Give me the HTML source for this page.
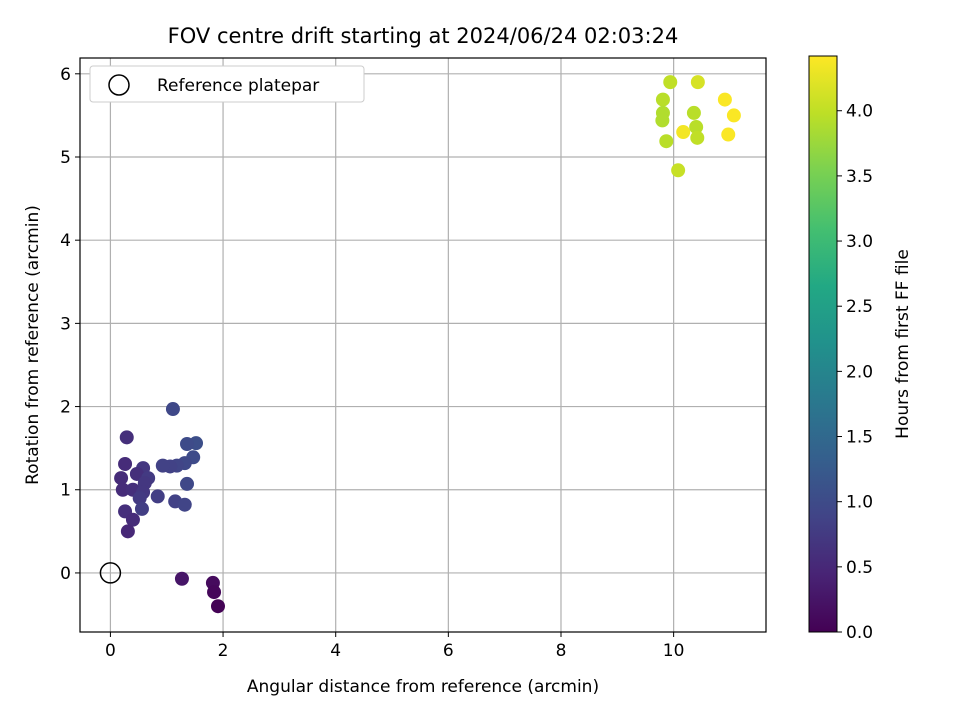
<!DOCTYPE html>
<html><head><meta charset="utf-8"><style>
body{margin:0;background:#fff;}
svg{display:block;font-family:"DejaVu Sans","Liberation Sans",sans-serif;}
</style></head><body>
<svg id="chart" width="960" height="720" viewBox="0 0 960 720">
<defs>
<linearGradient id="vir" x1="0" y1="1" x2="0" y2="0">
<stop offset="0" stop-color="#440154"/><stop offset="0.1" stop-color="#482475"/><stop offset="0.2" stop-color="#414487"/><stop offset="0.3" stop-color="#355f8d"/><stop offset="0.4" stop-color="#2a788e"/><stop offset="0.5" stop-color="#21918c"/><stop offset="0.6" stop-color="#22a884"/><stop offset="0.7" stop-color="#44bf70"/><stop offset="0.8" stop-color="#7ad151"/><stop offset="0.9" stop-color="#bddf26"/><stop offset="1" stop-color="#fde725"/>
</linearGradient>
</defs>
<text x="423" y="43" font-size="21" text-anchor="middle">FOV centre drift starting at 2024/06/24 02:03:24</text>
<g id="grid"></g>
<g id="pts"></g>
<rect x="80" y="58" width="686" height="574" fill="none" stroke="#000" stroke-width="1.2"/>
<g id="ticks"></g>
<text x="423" y="692" font-size="17" text-anchor="middle">Angular distance from reference (arcmin)</text>
<text transform="translate(38,345) rotate(-90)" font-size="17" text-anchor="middle">Rotation from reference (arcmin)</text>
<g>
<rect x="90" y="66" width="274" height="36" rx="3" fill="#fff" stroke="#ccc" stroke-width="1"/>
<circle cx="119" cy="85" r="10" fill="none" stroke="#000" stroke-width="1.5"/>
<text x="157" y="91" font-size="17">Reference platepar</text>
</g>
<rect x="809" y="56" width="28" height="576" fill="url(#vir)" stroke="#000" stroke-width="1"/>
<g id="cticks"></g>
<text transform="translate(908,344) rotate(-90)" font-size="17" text-anchor="middle">Hours from first FF file</text>
</svg>
<script>
const xs=[1.11,0.29,1.52,1.36,1.47,1.32,1.18,1.06,0.93,0.26,0.58,0.47,0.19,0.67,0.61,0.22,0.40,0.58,0.84,1.36,1.15,1.32,0.52,0.26,0.56,0.40,0.31,1.27,1.82,1.84,1.91,
9.94,10.43,9.81,10.91,9.81,11.07,10.36,9.80,10.17,10.40,10.42,10.97,9.87,10.08];
const ys=[1.97,1.63,1.56,1.55,1.39,1.32,1.29,1.28,1.29,1.31,1.26,1.19,1.14,1.14,1.08,1.00,1.00,0.97,0.92,1.07,0.86,0.82,0.90,0.74,0.77,0.64,0.50,-0.07,-0.12,-0.23,-0.40,
5.90,5.90,5.69,5.69,5.53,5.50,5.53,5.44,5.30,5.36,5.23,5.27,5.19,4.84];
const hours=[0.95,0.6,1.05,1.0,1.0,0.95,0.9,0.85,0.85,0.55,0.7,0.6,0.55,0.75,0.7,0.55,0.6,0.7,0.8,0.95,0.85,0.9,0.75,0.6,0.8,0.55,0.5,0.25,0.12,0.08,0.02,
4.0,4.15,3.95,4.4,3.9,4.4,3.95,3.9,4.35,3.95,4.0,4.4,3.95,4.05];
const xTicks=[0,2,4,6,8,10];
const yTicks=[0,1,2,3,4,5,6];
const cTicks=["0.0","0.5","1.0","1.5","2.0","2.5","3.0","3.5","4.0"];
const X0=80,X1=766,Y0=632,Y1=58,xmin=-0.54,xmax=11.64,ymin=-0.71,ymax=6.19,hmax=4.42;
const sx=v=>X0+(v-xmin)/(xmax-xmin)*(X1-X0);
const sy=v=>Y0-(v-ymin)/(ymax-ymin)*(Y0-Y1);
const sc=v=>632-v/hmax*576;
const stops=["#440154","#482475","#414487","#355f8d","#2a788e","#21918c","#22a884","#44bf70","#7ad151","#bddf26","#fde725"];
function vir(t){t=Math.max(0,Math.min(1,t));const p=t*10,i=Math.min(9,Math.floor(p)),f=p-i;
const a=stops[i],b=stops[i+1];const c=k=>Math.round(parseInt(a.substr(k,2),16)*(1-f)+parseInt(b.substr(k,2),16)*f);
return `rgb(${c(1)},${c(3)},${c(5)})`;}
const NS="http://www.w3.org/2000/svg";
function mk(tag,attrs,parent){const e=document.createElementNS(NS,tag);for(const k in attrs)e.setAttribute(k,attrs[k]);parent.appendChild(e);return e;}
const grid=document.getElementById('grid'),ticks=document.getElementById('ticks'),pts=document.getElementById('pts'),ct=document.getElementById('cticks');
xTicks.forEach(v=>{const x=sx(v);
const g=mk('line',{x1:x,x2:x,y1:Y1,y2:Y0,stroke:'#b0b0b0','stroke-width':1.2},grid);


const t=mk('line',{x1:x,x2:x,y1:Y0,y2:Y0+5,stroke:'#000'},ticks);


const l=mk('text',{x:x,y:Y0+24,'font-size':17,'text-anchor':'middle'},ticks);l.textContent=v;

});
yTicks.forEach(v=>{const y=sy(v);
const g=mk('line',{x1:X0,x2:X1,y1:y,y2:y,stroke:'#b0b0b0','stroke-width':1.2},grid);


const t=mk('line',{x1:X0-5,x2:X0,y1:y,y2:y,stroke:'#000'},ticks);


const l=mk('text',{x:X0-9,y:y+6,'font-size':17,'text-anchor':'end'},ticks);l.textContent=v;

});
xs.forEach((v,i)=>{const c=mk('circle',{cx:sx(v),cy:sy(ys[i]),r:7,fill:vir(hours[i]/hmax)},pts);

});
const ref=mk('circle',{cx:sx(0),cy:sy(0),r:10,fill:'none',stroke:'#000','stroke-width':1.5},pts);


cTicks.forEach(s=>{const y=sc(parseFloat(s));
const t=mk('line',{x1:837,x2:842,y1:y,y2:y,stroke:'#000'},ct);


const l=mk('text',{x:846,y:y+6,'font-size':17},ct);l.textContent=s;

});
</script>
</body></html>
